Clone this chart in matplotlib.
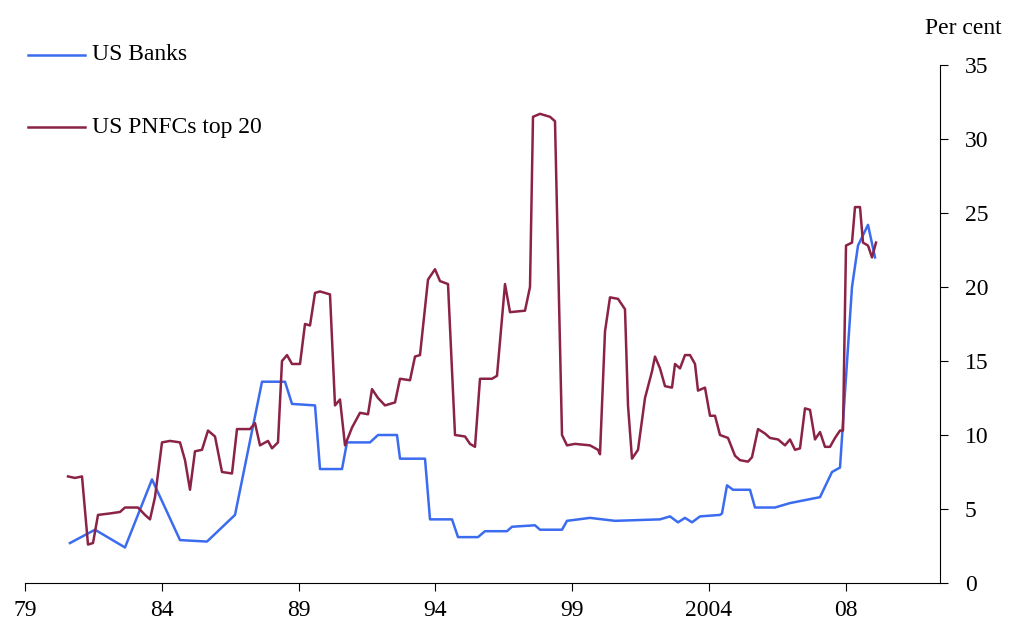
import matplotlib
matplotlib.use("Agg")
import matplotlib.pyplot as plt
from matplotlib.lines import Line2D
import numpy as np

plt.rcParams['font.family'] = ['Liberation Serif', 'DejaVu Serif']

def px2yr(p):
    return 1979 + (np.array(p) - 25) / 27.35

bank_px = [70,95,125,152,180,207,235,262,285,292,315,320,342,347,370,378,397,400,425,430,452,458,478,485,507,512,535,540,562,567,590,615,660,670,678,685,692,700,720,722,727,733,750,755,775,790,805,820,832,840,852,858,868,875]
bank_val = [2.7,3.6,2.4,7.0,2.9,2.8,4.6,13.6,13.6,12.1,12.0,7.7,7.7,9.5,9.5,10.0,10.0,8.4,8.4,4.3,4.3,3.1,3.1,3.5,3.5,3.8,3.9,3.6,3.6,4.2,4.4,4.2,4.3,4.5,4.1,4.4,4.1,4.5,4.6,4.7,6.6,6.3,6.3,5.1,5.1,5.4,5.6,5.8,7.5,7.8,20,22.8,24.2,22.0]

pnfc_px = [68,75,82,88,93,98,110,120,125,138,145,150,155,162,170,180,185,190,195,202,208,215,222,232,237,250,255,260,268,272,278,282,287,292,300,305,310,315,320,330,335,340,345,352,360,368,372,378,385,395,400,410,415,420,428,435,440,448,455,465,470,475,480,492,497,505,510,525,530,533,540,550,555,562,567,575,590,598,600,605,610,618,625,628,632,638,645,652,655,660,665,672,675,680,685,690,695,698,705,710,715,720,728,735,740,748,752,758,765,770,778,785,790,795,800,805,810,815,820,825,830,835,840,843,846,852,855,860,863,868,872,876]
pnfc_val = [7.2,7.1,7.2,2.6,2.7,4.6,4.7,4.8,5.1,5.1,4.6,4.3,5.8,9.5,9.6,9.5,8.3,6.3,8.9,9.0,10.3,9.9,7.5,7.4,10.4,10.4,10.8,9.3,9.6,9.1,9.5,15.0,15.4,14.8,14.8,17.5,17.4,19.6,19.7,19.5,12.0,12.4,9.3,10.5,11.5,11.4,13.1,12.5,12.0,12.2,13.8,13.7,15.3,15.4,20.5,21.2,20.4,20.2,10.0,9.9,9.4,9.2,13.8,13.8,14.0,20.2,18.3,18.4,20.0,31.5,31.7,31.5,31.2,10.0,9.3,9.4,9.3,9.0,8.7,17.0,19.3,19.2,18.5,12.0,8.4,9.0,12.5,14.3,15.3,14.5,13.3,13.2,14.8,14.5,15.4,15.4,14.8,13.0,13.2,11.3,11.3,10.0,9.8,8.6,8.3,8.2,8.5,10.4,10.1,9.8,9.7,9.3,9.7,9.0,9.1,11.8,11.7,9.7,10.2,9.2,9.2,9.8,10.3,10.3,22.8,23.0,25.4,25.4,23.0,22.8,22.0,23.0]

xtick_pos = [1979,1984,1989,1994,1999,2004,2009]
xtick_lab = ['79','84','89','94','99','2004','08']
ytick_vals = [0,5,10,15,20,25,30,35]

fig = plt.figure(figsize=(10.10,6.37), dpi=100)
ax = fig.add_axes([25/1010, 1-583/637, 915/1010, 518/637])
ax.plot(px2yr(bank_px), bank_val, color='#3b6cf0', lw=1.8)
ax.plot(px2yr(pnfc_px), pnfc_val, color='#8b2346', lw=1.8)
ax.set_xlim(1979, px2yr(940))
ax.set_ylim(0, 35)
ax.set_xticks(xtick_pos)
ax.set_xticklabels(xtick_lab, fontsize=17)
ax.set_yticks(ytick_vals)
ax.yaxis.tick_right()
ax.tick_params(axis='y', labelsize=17, direction='out', length=6, pad=12)
ax.tick_params(axis='x', direction='out', length=6, pad=6)
for s in ['top','left']:
    ax.spines[s].set_visible(False)
fig.text(1002/1010, 1-28/637, 'Per cent', fontsize=17, ha='right', va='center')

for yy, lab, c in [(55, 'US Banks', '#3b6cf0'), (127, 'US PNFCs top 20', '#8b2346')]:
    fig.add_artist(Line2D([28/1010, 85/1010], [1-yy/637]*2, color=c, lw=1.8))
    fig.text(92/1010, 1-yy/637, lab, fontsize=17, va='center')

fig.savefig('out.png', dpi=100)
